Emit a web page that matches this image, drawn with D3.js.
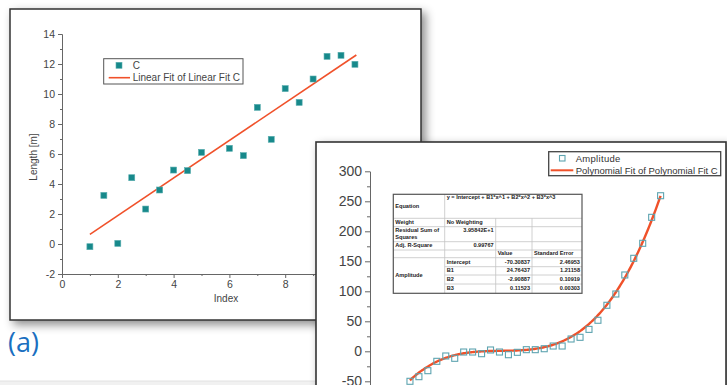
<!DOCTYPE html>
<html>
<head>
<meta charset="utf-8">
<script src="https://cdn.jsdelivr.net/npm/d3@7"></script>
<style>
  html, body { margin: 0; padding: 0; background: #ffffff; }
  svg { display: block; }
</style>
</head>
<body>
<svg id="chart" width="727" height="385"></svg>
<script>
// ---- Panel (a): length measurements with a straight-line fit ----
const lengthIndex  = [1, 1.5, 2, 2.5, 3, 3.5, 4, 4.5, 5, 6, 6.5, 7, 7.5, 8, 8.5, 9, 9.5, 10, 10.5];
const lengthValues = [-0.18, 3.24, 0.04, 4.42, 2.33, 3.6, 4.93, 4.89, 6.11, 6.38, 5.89, 9.11, 6.98, 10.36, 9.44, 11.0, 12.51, 12.58, 11.98];
const linearFitX = [1, 10.55];
const linearFitY = [0.64, 12.6];
const lengthMajorTicks = [-2, 0, 2, 4, 6, 8, 10, 12, 14];
const lengthMinorTicks = [-1, 1, 3, 5, 7, 9, 11, 13];
const indexMajorTicks = [0, 2, 4, 6, 8];
const indexMinorTicks = [1, 3, 5, 7, 9, 10, 11];

// ---- Panel (b): amplitude with a cubic polynomial fit ----
const ampX = [1.00, 1.73, 2.46, 3.19, 3.92, 4.65, 5.38, 6.11, 6.84, 7.57, 8.30, 9.03, 9.76, 10.49, 11.22,
              11.95, 12.68, 13.41, 14.14, 14.87, 15.60, 16.33, 17.06, 17.79, 18.52, 19.25, 19.98, 20.71, 21.44];
const ampY = [-50, -42.3, -32.3, -16.7, -7.8, -11.7, -1.2, -1.2, -4, 2.2, -1.2, -5.7, -1.7, 2.7, 2.7,
              4.3, 8.8, 8.8, 20.5, 23.3, 36.5, 51.7, 76.7, 95.5, 127.2, 155, 180, 223.3, 259.3];
// fit coefficients as reported in the results table
const coefNames  = ["Intercept", "B1", "B2", "B3"];
const coefValues = [-70.30837, 24.76437, -2.90887, 0.11523];
const coefErrors = ["2.46953", "1.21158", "0.10919", "0.00303"];
const ampMajorTicks = [-50, 0, 50, 100, 150, 200, 250, 300];
const ampMinorTicks = [-75, -25, 25, 75, 125, 175, 225, 275];

const FONT = "'Liberation Sans', Arial, Helvetica, sans-serif";
const TEAL = "#17898b";
const FIT = "#f0512a";
const plain = (d) => String(d);   // hyphen-minus, as the plotting program prints it

const svg = d3.select("#chart");
const defs = svg.append("defs");
const shadow = defs.append("filter").attr("id", "winShadow")
  .attr("x", "-10%").attr("y", "-10%").attr("width", "130%").attr("height", "130%");
shadow.append("feDropShadow").attr("dx", 4).attr("dy", 4).attr("stdDeviation", 5)
  .attr("flood-color", "#000").attr("flood-opacity", 0.45);

// faint strip along the bottom of the page
svg.append("rect").attr("x", 0).attr("y", 381).attr("width", 727).attr("height", 4).attr("fill", "#f1f1f1");
svg.append("line").attr("x1", 0).attr("x2", 727).attr("y1", 381).attr("y2", 381).attr("stroke", "#e2e2e2");

// ================= Panel (a) =================
const a = svg.append("g");
a.append("rect").attr("x", 10).attr("y", 9).attr("width", 411).attr("height", 311)
  .attr("fill", "#fff").attr("stroke", "#333").attr("stroke-width", 1.5).attr("filter", "url(#winShadow)");

const xA = d3.scaleLinear().domain([0, 11]).range([62, 368.9]);
const yA = d3.scaleLinear().domain([-2, 14]).range([274, 34]);

function styleAxis(g, size) {
  g.select(".domain").attr("stroke", "#666").attr("stroke-width", 1);
  g.selectAll(".tick line").attr("stroke", "#666");
  g.selectAll(".tick text").attr("fill", "#444").attr("font-family", FONT).attr("font-size", size);
}

a.append("g").attr("transform", "translate(62,0)")
  .call(d3.axisLeft(yA).tickValues(lengthMinorTicks).tickSize(2).tickSizeOuter(0).tickFormat(""))
  .call(g => styleAxis(g, 10));
a.append("g").attr("transform", "translate(62,0)")
  .call(d3.axisLeft(yA).tickValues(lengthMajorTicks).tickSize(4).tickSizeOuter(0).tickPadding(3).tickFormat(plain))
  .call(g => styleAxis(g, 10.5));
a.append("g").attr("transform", "translate(0,274)")
  .call(d3.axisBottom(xA).tickValues(indexMinorTicks).tickSize(2).tickSizeOuter(0).tickFormat(""))
  .call(g => styleAxis(g, 10));
a.append("g").attr("transform", "translate(0,274)")
  .call(d3.axisBottom(xA).tickValues(indexMajorTicks).tickSize(4).tickSizeOuter(0).tickPadding(3).tickFormat(plain))
  .call(g => styleAxis(g, 10.5));

a.append("text").attr("x", 226).attr("y", 302).attr("text-anchor", "middle")
  .attr("font-family", FONT).attr("font-size", 10).attr("fill", "#444").text("Index");
a.append("text").attr("transform", "translate(37,157) rotate(-90)").attr("text-anchor", "middle")
  .attr("font-family", FONT).attr("font-size", 10).attr("fill", "#444").text("Length [m]");

a.append("line")
  .attr("x1", xA(linearFitX[0])).attr("y1", yA(linearFitY[0]))
  .attr("x2", xA(linearFitX[1])).attr("y2", yA(linearFitY[1]))
  .attr("stroke", FIT).attr("stroke-width", 1.6);

a.selectAll("rect.pt").data(lengthIndex).join("rect").attr("class", "pt")
  .attr("x", (d) => xA(d) - 3).attr("y", (d, i) => yA(lengthValues[i]) - 3)
  .attr("width", 6).attr("height", 6)
  .attr("fill", TEAL).attr("stroke", "#5aaeb0").attr("stroke-width", 0.6);

// legend
const la = a.append("g");
la.append("rect").attr("x", 103.7).attr("y", 58.7).attr("width", 139.3).attr("height", 25.3)
  .attr("fill", "#fff").attr("stroke", "#555").attr("stroke-width", 1);
la.append("rect").attr("x", 116).attr("y", 62.3).attr("width", 6).attr("height", 6)
  .attr("fill", TEAL).attr("stroke", "#5aaeb0").attr("stroke-width", 0.6);
la.append("text").attr("x", 132.7).attr("y", 69).attr("font-family", FONT).attr("font-size", 10)
  .attr("fill", "#444").text("C");
la.append("line").attr("x1", 108.7).attr("x2", 130).attr("y1", 77.7).attr("y2", 77.7)
  .attr("stroke", FIT).attr("stroke-width", 1.6);
la.append("text").attr("x", 132.7).attr("y", 81.3).attr("font-family", FONT).attr("font-size", 10)
  .attr("fill", "#444").text("Linear Fit of Linear Fit C");

svg.append("text").attr("x", 8).attr("y", 352).attr("font-family", "'Open Sans', " + FONT)
  .attr("font-size", 27).attr("font-weight", 400).attr("fill", "#1a6fc0").text("(a)");

// ================= Panel (b) =================
const b = svg.append("g");
b.append("rect").attr("x", 316).attr("y", 142).attr("width", 410).attr("height", 270)
  .attr("fill", "#fff").attr("stroke", "#333").attr("stroke-width", 1.6).attr("filter", "url(#winShadow)");

const xB = d3.scaleLinear().domain([0, 24]).range([397.7, 692.0]);
const yB = d3.scaleLinear().domain([-100, 300]).range([411.3, 171.3]);

b.append("g").attr("transform", "translate(370,0)")
  .call(d3.axisLeft(yB).tickValues(ampMinorTicks).tickSize(3).tickSizeOuter(0).tickFormat(""))
  .call(g => styleAxis(g, 13));
b.append("g").attr("transform", "translate(370,0)")
  .call(d3.axisLeft(yB).tickValues(ampMajorTicks).tickSize(5).tickSizeOuter(0).tickPadding(3).tickFormat(plain))
  .call(g => styleAxis(g, 14));

// fitted cubic, evaluated from the reported coefficients across the data range
const poly = (x) => coefValues[0] + coefValues[1] * x + coefValues[2] * x * x + coefValues[3] * x * x * x;
const fitSamples = d3.range(0, 201).map(k => {
  const x = ampX[0] + (ampX[ampX.length - 1] - ampX[0]) * k / 200;
  return [x, poly(x)];
});
b.append("path").datum(fitSamples)
  .attr("d", d3.line().x(d => xB(d[0])).y(d => yB(d[1])).curve(d3.curveMonotoneX))
  .attr("fill", "none").attr("stroke", FIT).attr("stroke-width", 2.4);

b.selectAll("rect.amp").data(ampX).join("rect").attr("class", "amp")
  .attr("x", d => xB(d) - 3).attr("y", (d, i) => yB(ampY[i]) - 3)
  .attr("width", 6).attr("height", 6)
  .attr("fill", "none").attr("stroke", "#5ea4b0").attr("stroke-width", 1.1);

// legend
const lb = b.append("g");
lb.append("rect").attr("x", 548.7).attr("y", 151.7).attr("width", 172).attr("height", 24)
  .attr("fill", "#fff").attr("stroke", "#444").attr("stroke-width", 1.3);
lb.append("rect").attr("x", 559.5).attr("y", 155.5).attr("width", 5.5).attr("height", 5.5)
  .attr("fill", "none").attr("stroke", "#5ea4b0").attr("stroke-width", 1.1);
lb.append("text").attr("x", 575.7).attr("y", 161.5).attr("font-family", FONT).attr("font-size", 9.5)
  .attr("fill", "#333").attr("letter-spacing", 0.3).text("Amplitude");
lb.append("line").attr("x1", 550.7).attr("x2", 573.3).attr("y1", 170.3).attr("y2", 170.3)
  .attr("stroke", FIT).attr("stroke-width", 2);
lb.append("text").attr("x", 575.7).attr("y", 173.5).attr("font-family", FONT).attr("font-size", 9.5)
  .attr("fill", "#333").attr("textLength", 142).attr("lengthAdjust", "spacing")
  .text("Polynomial Fit of Polynomial Fit C");

// results table
const rowsY = [194.3, 218.3, 226.7, 241.7, 250, 257.7, 266.7, 275, 284, 293.3];
const colsX = [393.3, 444.7, 495.7, 532, 582];
const t = b.append("g").attr("font-family", FONT).attr("font-size", 5.6).attr("font-weight", "bold").attr("fill", "#222");
const grid = "#c4c4c4";
rowsY.slice(1, -1).forEach((yy, i) => {
  const r = i + 1;
  const x0 = (r >= 6) ? colsX[1] : colsX[0];
  t.append("line").attr("x1", x0).attr("x2", colsX[4]).attr("y1", yy).attr("y2", yy)
    .attr("stroke", grid).attr("stroke-width", 0.8);
});
t.append("line").attr("x1", colsX[1]).attr("x2", colsX[1]).attr("y1", rowsY[0]).attr("y2", rowsY[9]).attr("stroke", grid).attr("stroke-width", 0.8);
[colsX[2], colsX[3]].forEach(xx => {
  t.append("line").attr("x1", xx).attr("x2", xx).attr("y1", rowsY[1]).attr("y2", rowsY[9]).attr("stroke", grid).attr("stroke-width", 0.8);
});
t.append("rect").attr("x", colsX[0]).attr("y", rowsY[0]).attr("width", colsX[4] - colsX[0]).attr("height", rowsY[9] - rowsY[0])
  .attr("fill", "none").attr("stroke", "#555").attr("stroke-width", 1.2);

const cell = (txt, x, y, anchor) => t.append("text").attr("x", x).attr("y", y)
  .attr("text-anchor", anchor || "start").attr("dominant-baseline", "middle").text(txt);
const mid = (r) => (rowsY[r] + rowsY[r + 1]) / 2;
cell("Equation", colsX[0] + 2, 206.5);
cell("y = Intercept + B1*x^1 + B2*x^2 + B3*x^3", colsX[1] + 2, 197.8);
cell("Weight", colsX[0] + 2, mid(1));
cell("No Weighting", colsX[1] + 2, mid(1));
cell("Residual Sum of", colsX[0] + 2, rowsY[2] + 3.6);
cell("Squares", colsX[0] + 2, rowsY[2] + 10.4);
cell("3.95842E+1", colsX[2] - 2, rowsY[2] + 3.6, "end");
cell("Adj. R-Square", colsX[0] + 2, mid(3));
cell("0.99767", colsX[2] - 2, mid(3), "end");
cell("Value", colsX[2] + 2, mid(4));
cell("Standard Error", colsX[3] + 2, mid(4));
cell("Amplitude", colsX[0] + 2, (rowsY[5] + rowsY[9]) / 2);
coefNames.forEach((nm, i) => {
  cell(nm, colsX[1] + 2, mid(5 + i));
  cell(String(coefValues[i]), colsX[3] - 2, mid(5 + i), "end");
  cell(coefErrors[i], colsX[4] - 2, mid(5 + i), "end");
});
</script>
</body>
</html>
